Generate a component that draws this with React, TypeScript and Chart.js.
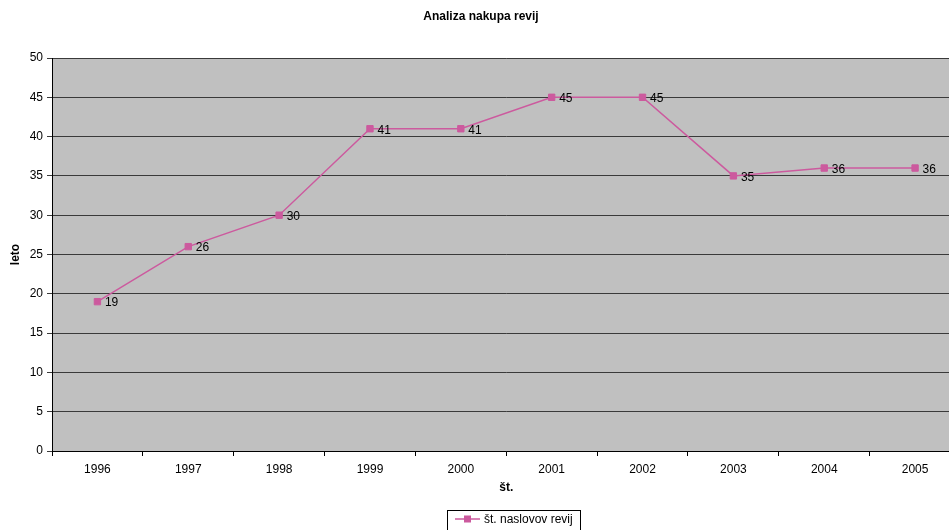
import React, { useEffect, useRef } from "react";
import { Chart, registerables } from "chart.js";

Chart.register(...registerables);

const years = ["1996", "1997", "1998", "1999", "2000", "2001", "2002", "2003", "2004", "2005"];
const values = [19, 26, 30, 41, 41, 45, 45, 35, 36, 36];
const seriesName = "št. naslovov revij";
const chartTitle = "Analiza nakupa revij";
const yTitle = "leto";
const xTitle = "št.";

const FONT = "Arial, 'Liberation Sans', sans-serif";
const LINE_COLOR = "#CC5A9E";

export default function App() {
  const ref = useRef<HTMLCanvasElement | null>(null);

  useEffect(() => {
    const canvas = ref.current;
    if (!canvas) return;

    const decor = {
      id: "decor",
      beforeDraw(chart: any) {
        const { ctx, chartArea } = chart;
        ctx.save();
        ctx.fillStyle = "#C0C0C0";
        ctx.fillRect(chartArea.left, chartArea.top, chartArea.right - chartArea.left, chartArea.bottom - chartArea.top);
        ctx.restore();
      },
      afterDatasetsDraw(chart: any) {
        const { ctx, chartArea } = chart;
        const meta = chart.getDatasetMeta(0);
        ctx.save();
        ctx.font = `12px ${FONT}`;
        ctx.fillStyle = "#000";
        ctx.textAlign = "left";
        ctx.textBaseline = "middle";
        meta.data.forEach((pt: any, i: number) => {
          ctx.fillText(String(values[i]), pt.x + 7.5, pt.y + 1.5);
        });
        // title
        ctx.font = `bold 12px ${FONT}`;
        ctx.textAlign = "center";
        ctx.fillText(chartTitle, 481, 17);
        // x title
        const cx = (chartArea.left + chartArea.right) / 2;
        ctx.fillText(xTitle, cx, 488);
        // y title
        ctx.save();
        ctx.translate(16, (chartArea.top + chartArea.bottom) / 2);
        ctx.rotate(-Math.PI / 2);
        ctx.fillText(yTitle, 0, 0);
        ctx.restore();
        // legend
        ctx.strokeStyle = "#000";
        ctx.lineWidth = 1;
        ctx.strokeRect(447.5, 510.5, 133, 30);
        ctx.strokeStyle = LINE_COLOR;
        ctx.lineWidth = 1.5;
        ctx.beginPath();
        ctx.moveTo(455, 519);
        ctx.lineTo(480, 519);
        ctx.stroke();
        ctx.fillStyle = LINE_COLOR;
        ctx.fillRect(464, 515.5, 7, 7);
        ctx.fillStyle = "#000";
        ctx.font = `12px ${FONT}`;
        ctx.textAlign = "left";
        ctx.fillText(seriesName, 484, 520);
        ctx.restore();
      },
    };

    const chart = new Chart(canvas, {
      type: "line",
      data: {
        labels: years,
        datasets: [
          {
            label: seriesName,
            data: values,
            borderColor: LINE_COLOR,
            backgroundColor: LINE_COLOR,
            borderWidth: 1.5,
            pointStyle: "rect",
            pointRadius: 4.5,
            pointBorderWidth: 1,
            pointBackgroundColor: LINE_COLOR,
            pointBorderColor: LINE_COLOR,
            tension: 0,
          },
        ],
      },
      options: {
        responsive: false,
        animation: false,
        devicePixelRatio: 1,
        layout: { padding: { top: 58, right: 0, left: 0, bottom: 0 } },
        plugins: {
          legend: { display: false },
          title: { display: false },
          tooltip: { enabled: false },
        },
        scales: {
          x: {
            type: "category",
            offset: true,
            grid: {
              offset: true,
              drawOnChartArea: false,
              drawTicks: true,
              tickLength: 5,
              color: "#000",
            },
            border: { display: true, color: "#000" },
            ticks: {
              color: "#000",
              font: { family: FONT, size: 12 },
              padding: 6,
              maxRotation: 0,
            },
            afterFit(scale: any) {
              scale.height = 79;
            },
          },
          y: {
            min: 0,
            max: 50,
            grid: {
              color: "#3a3a3a",
              tickLength: 5,
              drawTicks: true,
            },
            border: { display: true, color: "#000" },
            ticks: {
              stepSize: 5,
              color: "#000",
              font: { family: FONT, size: 12 },
              padding: 4,
            },
            afterFit(scale: any) {
              scale.width = 52;
            },
          },
        },
      },
      plugins: [decor],
    } as any);

    return () => chart.destroy();
  }, []);

  return (
    <div style={{ position: "fixed", left: 0, top: 0, width: 951, height: 530, overflow: "hidden", background: "#fff" }}>
      <div style={{ width: 949, height: 530, overflow: "hidden" }}>
        <canvas ref={ref} width={966} height={530} style={{ display: "block", width: 966, height: 530 }} />
      </div>
    </div>
  );
}
